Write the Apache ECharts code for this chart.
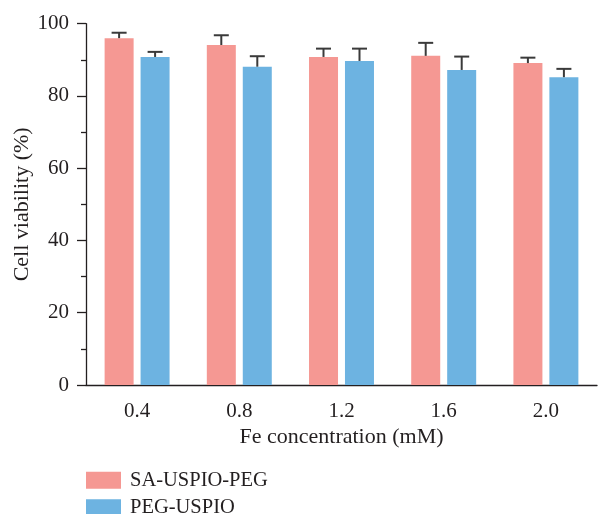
<!DOCTYPE html>
<html>
<head>
<meta charset="utf-8">
<script src="https://cdn.jsdelivr.net/npm/echarts@6/dist/echarts.min.js"></script>
<style>
html,body{margin:0;padding:0;background:#fff;}
#chart{width:600px;height:514px;}
</style>
</head>
<body>
<div id="chart"></div>
<script>
const categories = ['0.4', '0.8', '1.2', '1.6', '2.0'];
const seriesNames = ['SA-USPIO-PEG', 'PEG-USPIO'];
const saValues = [96.0, 94.1, 90.8, 91.1, 89.1];
const saErrors = [1.5, 2.7, 2.3, 3.6, 1.5];
const pegValues = [90.8, 88.1, 89.7, 87.2, 85.2];
const pegErrors = [1.4, 2.9, 3.4, 3.7, 2.3];
const yTicks = [0, 20, 40, 60, 80, 100];

const FONT = '"Liberation Serif", "Times New Roman", serif';
const INK = '#231F20';
const PINK = '#F59893';
const BLUE = '#6DB3E1';
const ERR = '#3a3a3a';
const BAR_W = 29;
const BAR_OFF = 18;

function errSeries(values, errors, offset) {
  return {
    type: 'custom',
    z: 5,
    silent: true,
    data: values.map((v, i) => [i, v, errors[i]]),
    renderItem: function (params, api) {
      const x = api.value(0), v = api.value(1), e = api.value(2);
      const base = api.coord([x, v]);
      const top = api.coord([x, v + e]);
      const cx = base[0] + offset;
      return {
        type: 'group',
        children: [
          { type: 'line', shape: { x1: cx, y1: base[1], x2: cx, y2: top[1] },
            style: { stroke: ERR, lineWidth: 2 } },
          { type: 'line', shape: { x1: cx - 7.5, y1: top[1], x2: cx + 7.5, y2: top[1] },
            style: { stroke: ERR, lineWidth: 2 } }
        ]
      };
    }
  };
}

function legendFor(name, top) {
  return {
    data: [name],
    orient: 'vertical',
    left: 86,
    top: top,
    padding: 0,
    icon: 'rect',
    itemWidth: 35,
    itemHeight: 17,
    textStyle: { fontFamily: FONT, fontSize: 20.5, color: INK, padding: [0, 0, 0, 4] }
  };
}

const chart = echarts.init(document.getElementById('chart'), null, { renderer: 'canvas' });
chart.setOption({
  animation: false,
  backgroundColor: '#fff',
  grid: { left: 86, right: 3, top: 23.7, bottom: 129, containLabel: false, outerBoundsMode: 'none' },
  legend: [legendFor(seriesNames[0], 469.8), legendFor(seriesNames[1], 497.2)],
  xAxis: {
    type: 'category',
    data: categories,
    name: 'Fe concentration (mM)',
    nameLocation: 'middle',
    nameGap: 41,
    nameMoveOverlap: false,
    nameTextStyle: { fontFamily: FONT, fontSize: 22, color: INK },
    axisLine: { lineStyle: { color: INK, width: 1.3 } },
    axisTick: { alignWithLabel: true, length: 8, lineStyle: { color: INK, width: 1.3 } },
    axisLabel: { fontFamily: FONT, fontSize: 21, color: INK, margin: 16 }
  },
  yAxis: {
    type: 'value',
    min: yTicks[0],
    max: yTicks[yTicks.length - 1],
    interval: yTicks[1] - yTicks[0],
    name: 'Cell viability (%)',
    nameLocation: 'middle',
    nameGap: 53,
    nameMoveOverlap: false,
    nameTextStyle: { fontFamily: FONT, fontSize: 22, color: INK },
    axisLine: { show: true, lineStyle: { color: INK, width: 1.3 } },
    axisTick: { show: true, length: 9, lineStyle: { color: INK, width: 1.3 } },
    minorTick: { show: true, splitNumber: 2, length: 5, lineStyle: { color: INK, width: 1.3 } },
    splitLine: { show: false },
    axisLabel: { fontFamily: FONT, fontSize: 21, color: INK, margin: 17 }
  },
  series: [
    { name: seriesNames[0], type: 'bar', data: saValues, barWidth: BAR_W, barGap: '24%',
      itemStyle: { color: PINK } },
    { name: seriesNames[1], type: 'bar', data: pegValues, barWidth: BAR_W, barGap: '24%',
      itemStyle: { color: BLUE } },
    errSeries(saValues, saErrors, -BAR_OFF),
    errSeries(pegValues, pegErrors, BAR_OFF)
  ]
});
</script>
</body>
</html>
